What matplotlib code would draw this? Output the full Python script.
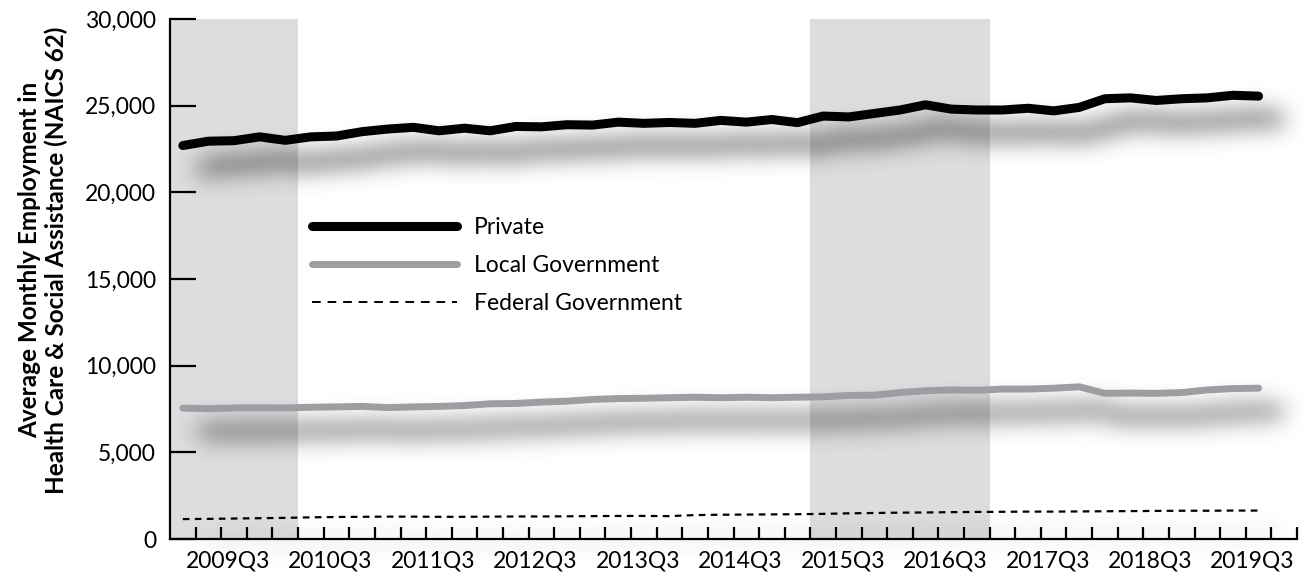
import numpy as np
import matplotlib
matplotlib.use("Agg")
import matplotlib.pyplot as plt
from matplotlib.lines import Line2D
from matplotlib.transforms import ScaledTranslation

# ---------------- data ----------------
quarters = [f"{y}Q{q}" for y in range(2009, 2020) for q in range(1, 5)][:43]
all_categories = quarters + ["2019Q4"]  # last category is empty

private = [22700, 22950, 22980, 23200, 23000, 23200, 23250, 23500, 23650, 23750,
           23550, 23700, 23550, 23800, 23780, 23900, 23880, 24050, 23980, 24030,
           23980, 24150, 24050, 24200, 24020, 24400, 24350, 24550, 24750, 25050,
           24800, 24750, 24750, 24850, 24700, 24900, 25400, 25450, 25300, 25400,
           25450, 25600, 25550]
local_gov = [7550, 7520, 7560, 7570, 7560, 7600, 7620, 7650, 7580, 7620,
             7650, 7700, 7800, 7820, 7900, 7950, 8050, 8100, 8120, 8150,
             8180, 8150, 8180, 8150, 8180, 8200, 8280, 8300, 8450, 8550,
             8600, 8580, 8650, 8650, 8700, 8780, 8400, 8420, 8400, 8450,
             8600, 8680, 8700]
federal_gov = [1150, 1160, 1180, 1200, 1220, 1250, 1270, 1280, 1290, 1290,
               1280, 1280, 1290, 1300, 1300, 1310, 1320, 1330, 1330, 1320,
               1380, 1400, 1410, 1420, 1430, 1450, 1480, 1500, 1520, 1530,
               1550, 1560, 1570, 1580, 1580, 1590, 1600, 1610, 1620, 1630,
               1630, 1640, 1640]
series_names = ["Private", "Local Government", "Federal Government"]
tick_labels = ["2009Q3", "2010Q3", "2011Q3", "2012Q3", "2013Q3", "2014Q3",
               "2015Q3", "2016Q3", "2017Q3", "2018Q3", "2019Q3"]
shaded_periods = [("2009Q1", "2010Q1"), ("2015Q2", "2016Q4")]
y_ticks = [0, 5000, 10000, 15000, 20000, 25000, 30000]
y_label = "Average Monthly Employment in\nHealth Care & Social Assistance (NAICS 62)"

# ---------------- drop shadow filter ----------------
def _blur1d(a, sigma, axis):
    r = int(3 * sigma)
    k = np.exp(-0.5 * (np.arange(-r, r + 1) / sigma) ** 2)
    k /= k.sum()
    pad = [(0, 0)] * a.ndim
    pad[axis] = (r, r)
    p = np.pad(a, pad)
    out = np.zeros_like(a)
    n = a.shape[axis]
    for j, w in enumerate(k):
        sl = [slice(None)] * a.ndim
        sl[axis] = slice(j, j + n)
        out += w * p[tuple(sl)]
    return out


class DropShadow:
    def __init__(self, sigma, alpha, dx, dy, color=(0, 0, 0)):
        self.sigma, self.alpha, self.dx, self.dy, self.color = sigma, alpha, dx, dy, color

    def __call__(self, im, dpi):
        pad = int(3 * self.sigma) + 2
        a = np.pad(im[:, :, 3].astype(float), pad)
        a = _blur1d(_blur1d(a, self.sigma, 0), self.sigma, 1) * self.alpha
        out = np.zeros(a.shape + (4,))
        out[..., :3] = self.color
        out[..., 3] = np.clip(a, 0, 1)
        return out, -pad + self.dx, -pad - self.dy


# ---------------- figure ----------------
plt.rcParams['font.family'] = ['Lato', 'DejaVu Sans']
W, H = 1307, 580
fig = plt.figure(figsize=(W / 100, H / 100), dpi=100)
ax = fig.add_axes([170 / W, 1 - 539 / H, (1297 - 170) / W, (539 - 19) / H])

x = np.arange(len(quarters))
idx = {q: i for i, q in enumerate(all_categories)}

for s, e in shaded_periods:
    ax.axvspan(idx[s] - 0.5, idx[e] + 0.5, color="#DCDDDF", lw=0, zorder=0)

styles = [
    dict(color="black", lw=6.5, ls="-", slw=8.0, a=0.8),
    dict(color="#9D9EA1", lw=5.0, ls="-", slw=7.0, a=0.8),
    dict(color="black", lw=1.6, ls=(0, (3.0, 2.4)), slw=1.6, a=0.45),
]
for vals, st in zip([private, local_gov, federal_gov], styles):
    sh, = ax.plot(x, vals, color="black", lw=st["slw"], ls="-",
                  solid_capstyle="round", solid_joinstyle="round", zorder=2)
    sh.set_agg_filter(DropShadow(sigma=12, alpha=st["a"], dx=20, dy=23))
    ax.plot(x, vals, color=st["color"], lw=st["lw"], ls=st["ls"],
            solid_capstyle="round", solid_joinstyle="round", zorder=3)

ax.set_xlim(-0.5, len(all_categories) - 0.5)
ax.set_ylim(0, 30000)

for sp in ["top", "right"]:
    ax.spines[sp].set_visible(False)
for sp in ["left", "bottom"]:
    ax.spines[sp].set_linewidth(1.6)
    ax.spines[sp].set_zorder(4)

ax.set_yticks(y_ticks)
ax.set_yticklabels([f"{v:,}" for v in y_ticks])
ax.tick_params(axis="y", direction="in", length=19, width=1.6, pad=10,
               labelsize=16.5)

ax.set_xticks([idx[t] for t in tick_labels])
ax.set_xticklabels(tick_labels)
ax.set_xticks(np.arange(0.5, len(all_categories), 1), minor=True)
ax.tick_params(axis="x", which="major", length=0, pad=8, labelsize=16.5)
ax.tick_params(axis="x", which="minor", direction="in", length=9, width=1.6)
for lab in ax.get_xticklabels():
    lab.set_transform(lab.get_transform() + ScaledTranslation(-6 / 100, 0, fig.dpi_scale_trans))

handles = [
    Line2D([], [], color="black", lw=6.5, solid_capstyle="round"),
    Line2D([], [], color="#9D9EA1", lw=5.0, solid_capstyle="round"),
    Line2D([], [], color="black", lw=1.4, ls=(0, (4.5, 3.5))),
]
leg = ax.legend(handles, series_names, loc="upper left", frameon=False,
                bbox_to_anchor=(303 / W, 1 - 208 / H), bbox_transform=fig.transFigure,
                fontsize=16.5, handlelength=6.3, handletextpad=0.75, labelspacing=0.74,
                borderaxespad=0)

fig.text(43 / W, 1 - 260 / H, y_label, rotation=90, ha="center", va="center",
         fontsize=17.5, fontweight="bold", linespacing=1.15)

fig.savefig("out.png", dpi=100)
